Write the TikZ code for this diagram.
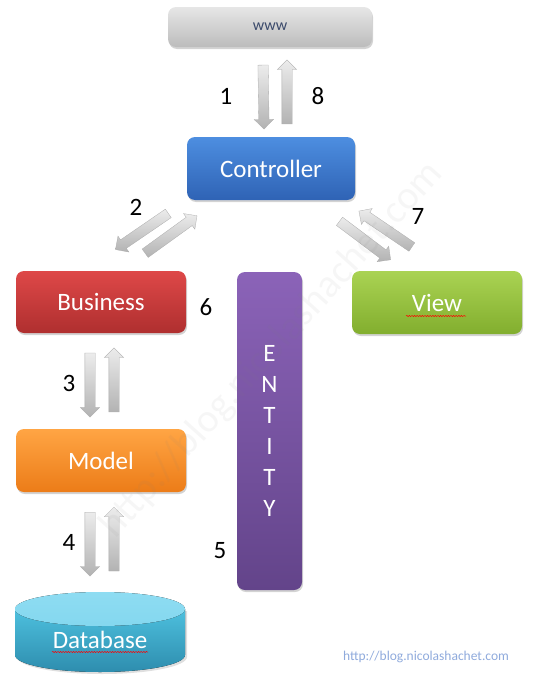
\documentclass[tikz,border=0pt]{standalone}
\usepackage{fontspec}
\setmainfont{Carlito}
\usepackage{tikz}
\usetikzlibrary{shapes.arrows,shadows,decorations.pathmorphing}

\definecolor{wwwtop}{HTML}{E6E6E6}
\definecolor{wwwbot}{HTML}{BCBCBC}
\definecolor{wwwtext}{HTML}{3B4A6B}
\definecolor{ctrltop}{HTML}{4D8EE0}
\definecolor{ctrlbot}{HTML}{2F63B5}
\definecolor{busitop}{HTML}{DE4848}
\definecolor{busibot}{HTML}{AF2F2F}
\definecolor{viewtop}{HTML}{AAD353}
\definecolor{viewbot}{HTML}{82AE2E}
\definecolor{modeltop}{HTML}{FFA544}
\definecolor{modelbot}{HTML}{EC7C18}
\definecolor{entitytop}{HTML}{8B63B8}
\definecolor{entitybot}{HTML}{63448A}
\definecolor{dbcap}{HTML}{8EDCF2}
\definecolor{dbtop}{HTML}{4DC0DE}
\definecolor{dbbot}{HTML}{2E8DAE}
\definecolor{urlblue}{HTML}{8FAADC}

\begin{document}
\begin{tikzpicture}[x=1pt, y=-1pt,
    box/.style={rounded corners=8pt, minimum width=170pt, minimum height=63pt,
      text=white, font=\fontsize{25}{30}\selectfont,
      drop shadow={shadow xshift=1pt, shadow yshift=-2pt, opacity=0.35}},
    fatarrow/.style={single arrow, minimum height=64pt, minimum width=19pt,
      inner sep=5pt, single arrow head extend=4.5pt, single arrow head indent=0pt,
      top color=gray!15, bottom color=gray!60, draw=gray!65, line width=0.3pt,
      sloped, allow upside down, anchor=center},
    step label/.style={font=\fontsize{25}{30}\selectfont, text=black},
    spell/.style={red, line width=0.5pt, decorate,
      decoration={snake, amplitude=0.6pt, segment length=2.6pt}}]

    \useasboundingbox (0,0) rectangle (534,680);

    % boxes
    \node[box, minimum width=204pt, minimum height=40pt, top color=wwwtop, bottom color=wwwbot,
      text=wwwtext, font=\fontsize{16}{19}\selectfont] (www) at (270,27) {www};

    \node[box, minimum width=168pt, top color=ctrltop, bottom color=ctrlbot] (controller) at (271,168.5) {Controller};

    \node[box, minimum height=62pt, top color=busitop, bottom color=busibot] (business) at (101,302) {Business};

    \node[box, top color=viewtop, bottom color=viewbot] (view) at (437,302.5) {View};

    \node[box, top color=modeltop, bottom color=modelbot] (model) at (101,460.5) {Model};

    \node[box, minimum width=65pt, minimum height=318pt, top color=entitytop, bottom color=entitybot,
      align=center, font=\fontsize{25}{31}\selectfont] (entity) at (269.5,431) {E\\N\\T\\I\\T\\Y};

    % database
    \fill[gray, opacity=0.25] (17,611) -- (17,657) arc[start angle=180, end angle=0, x radius=85, y radius=17] -- (187,611) -- cycle;
    \fill[top color=dbtop, bottom color=dbbot] (15,609) -- (15,655) arc[start angle=180, end angle=0, x radius=85, y radius=17] -- (185,609) -- cycle;
    \fill[top color=dbcap, bottom color=dbcap!85!dbtop] (100,609) ellipse [x radius=85, y radius=17];
    \coordinate (dbtop) at (100,592);
    \node[text=white, font=\fontsize{25}{30}\selectfont] (database) at (100,640) {Database};

    % spelling marks
    \draw[spell] ([shift={(-31,13.5)}]view.center) -- ([shift={(29,13.5)}]view.center);
    \draw[spell] ([shift={(-48,12)}]database.center) -- ([shift={(48,12)}]database.center);

    % arrows
    \path ([shift={(-7,15)}]www.south) -- node[fatarrow] (a1) {} ([shift={(-7,-10)}]controller.north);
    \path ([shift={(16,-10)}]controller.north) -- node[fatarrow] (a8) {} ([shift={(17,15)}]www.south);

    \path ([shift={(-101,12)}]controller.south) -- node[fatarrow] (a2) {} ([shift={(17,-23)}]business.north);
    \path ([shift={(42,-16)}]business.north) -- node[fatarrow] (a2b) {} ([shift={(-76,17)}]controller.south);

    \path ([shift={(67,20)}]controller.south) -- node[fatarrow] (a7) {} ([shift={(-49,-13)}]view.north);
    \path ([shift={(-24,-23)}]view.north) -- node[fatarrow] (a7b) {} ([shift={(91,13)}]controller.south);

    \path ([shift={(-11,17)}]business.south) -- node[fatarrow] (a3) {} ([shift={(-11,-14)}]model.north);
    \path ([shift={(13,-14)}]model.north) -- node[fatarrow] (a3b) {} ([shift={(13,17)}]business.south);

    \path ([shift={(-11,18)}]model.south) -- node[fatarrow] (a4) {} ([shift={(-10,-19)}]dbtop);
    \path ([shift={(14,-19)}]dbtop) -- node[fatarrow] (a4b) {} ([shift={(13,18)}]model.south);

    % step numbers
    \node[step label] (n1) at (226,96) {1};
    \node[step label] (n8) at (318,96) {8};
    \node[step label] (n2) at (136,207) {2};
    \node[step label] (n7) at (418,216) {7};
    \node[step label] (n6) at (206,307) {6};
    \node[step label] (n3) at (69,383) {3};
    \node[step label] (n4) at (69,542) {4};
    \node[step label] (n5) at (220,551) {5};

    % url
    \node[text=urlblue, font=\fontsize{13.5}{16}\selectfont] (url) at (426,657) {http://blog.nicolashachet.com};
    \node[text=gray, opacity=0.07, rotate=48, font=\fontsize{40}{48}\selectfont] (watermark) at (272,350) {http://blog.nicolashachet.com};

  \end{tikzpicture}
\end{document}
